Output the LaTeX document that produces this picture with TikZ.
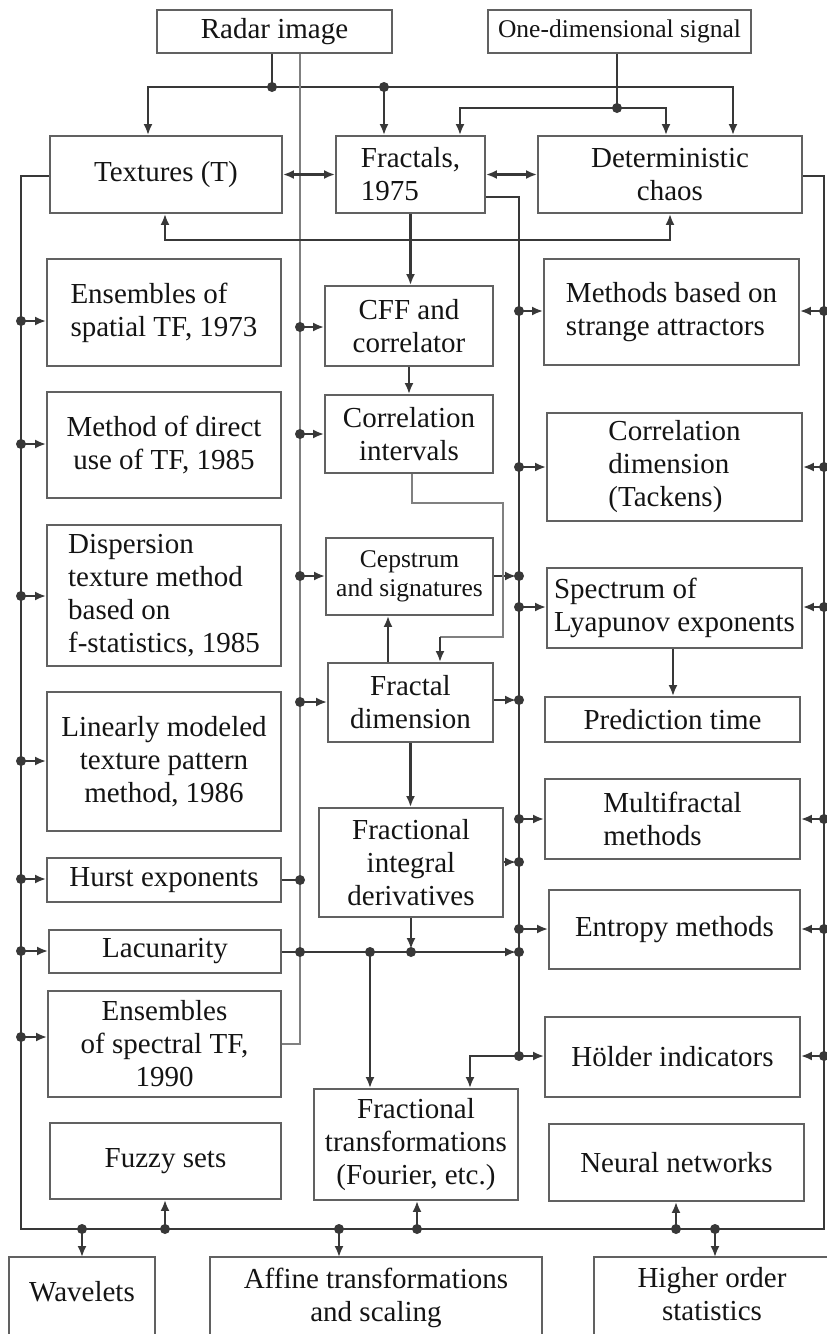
\documentclass[tikz,border=0pt]{standalone}
\usepackage{fontspec}
\setmainfont{Liberation Serif}
\usetikzlibrary{arrows.meta}
\colorlet{boxcol}{black!62}
\colorlet{linecol}{black!78}
\newcommand\fsA{\fontsize{29pt}{33pt}\selectfont}
\newcommand\fsB{\fontsize{25.5pt}{30pt}\selectfont}
\newcommand\fsC{\fontsize{25.5pt}{29pt}\selectfont}
\newcommand\bx[7][]{\node[box,minimum width={(#5)-(#3)},minimum height={(#6)-(#4)},#1] (#2) at ({((#3)+(#5))/2},{((#4)+(#6))/2}) {#7};}
\newcommand\jdot[1]{\fill[linecol] (#1) circle[radius=5pt];}
\begin{document}
\begin{tikzpicture}[x=1pt,y=-1pt,
  box/.style={draw=boxcol,line width=1.9pt,inner sep=0pt,align=center,font=\fsA,text=black!92},
  ln/.style={draw=linecol,line width=2.1pt},
  lnthin/.style={draw=black!50,line width=1.5pt},
  tip/.tip={Latex[length=11pt,width=9pt]},
  arr/.style={ln,-tip},
  darr/.style={ln,tip-tip},
  inarr/.style={arr,shorten >=3pt},
]
\useasboundingbox (0,0) rectangle (827,1334);
\clip (0,0) rectangle (827,1334);
\fill[white] (0,0) rectangle (827,1334);

% ---------- boxes ----------
\bx{radar}{157}{10}{392}{53}{Radar image}
\bx[font=\fsB]{onedim}{488}{10}{751}{53}{One-dimensional signal}
\bx{textures}{50}{136}{282}{213}{Textures (T)}
\bx[align=left]{fractals}{336}{136}{485}{213}{Fractals,\\1975}
\bx{chaos}{538}{136}{802}{213}{Deterministic\\chaos}

\bx[align=left]{spatial}{47}{259}{281}{366}{Ensembles of\\spatial TF, 1973}
\bx{direct}{47}{392}{281}{498}{Method of direct\\use of TF, 1985}
\bx[align=left]{disp}{47}{525}{281}{666}{Dispersion\\texture method\\based on\\f-statistics, 1985}
\bx{linear}{47}{692}{281}{831}{Linearly modeled\\texture pattern\\method, 1986}
\bx{hurst}{47}{858}{281}{902}{Hurst exponents}
\bx{lacun}{49}{930}{281}{973}{Lacunarity}
\bx{spectral}{48}{991}{281}{1097}{Ensembles\\of spectral TF,\\1990}
\bx{fuzzy}{50}{1123}{281}{1199}{Fuzzy sets}

\bx{cff}{325}{286}{493}{366}{CFF and\\correlator}
\bx{corrint}{325}{395}{493}{473}{Correlation\\intervals}
\bx[font=\fsC]{cepstrum}{326}{538}{493}{615}{Cepstrum\\and signatures}
\bx{fracdim}{328}{663}{493}{742}{Fractal\\dimension}
\bx{fracint}{319}{808}{503}{917}{Fractional\\integral\\derivatives}
\bx{fractrans}{314}{1089}{518}{1200}{Fractional\\transformations\\(Fourier, etc.)}

\bx[align=left]{strange}{544}{259}{799}{365}{Methods based on\\strange attractors}
\bx[align=left]{corrdim}{547}{413}{802}{521}{Correlation\\dimension\\(Tackens)}
\bx[align=left]{lyap}{547}{568}{802}{648}{Spectrum of\\Lyapunov exponents}
\bx{predict}{545}{697}{800}{742}{Prediction time}
\bx[align=left]{multi}{545}{779}{800}{859}{Multifractal\\methods}
\bx{entropy}{549}{890}{800}{969}{Entropy methods}
\bx{holder}{545}{1017}{800}{1097}{Hölder indicators}
\bx{neural}{549}{1124}{804}{1201}{Neural networks}

\bx[draw=none]{wavelets}{10}{1258}{154}{1326}{Wavelets}
\bx[draw=none]{affine}{211}{1258}{541}{1338}{Affine transformations\\and scaling}
\bx[draw=none]{higher}{595}{1258}{829}{1330}{Higher order\\statistics}
\foreach \n in {wavelets,affine,higher}
  \draw[draw=boxcol,line width=1.9pt] ([yshift=-40pt]\n.south west) |- (\n.north east) -- ([yshift=-40pt]\n.south east);

% ---------- top inputs ----------
\coordinate (r1) at (272,87);
\coordinate (r2) at (384,87);
\coordinate (bA) at (148,87);
\coordinate (bB) at (733,87);
\draw[ln] (r1 |- radar.south) -- (r1);
\draw[arr] (r1) -| (bA |- textures.north);
\draw[arr] (r1) -| (bB |- chaos.north);
\draw[arr] (r2) -- (r2 |- fractals.north);
\coordinate (s1) at (617,108);
\coordinate (sA) at (460,108);
\coordinate (sB) at (666,108);
\draw[ln] (s1 |- onedim.south) -- (s1);
\draw[arr] (s1) -| (sA |- fractals.north);
\draw[arr] (s1) -| (sB |- chaos.north);

% ---------- thin radar bus ----------
\coordinate (mbx) at (300,1044);
\draw[lnthin] (mbx |- radar.south) -- (mbx) -- (spectral.east |- mbx);

\jdot{r1} \jdot{r2} \jdot{s1}

% ---------- top row links ----------
\draw[darr] (textures.east) -- (fractals.west);
\draw[darr] (fractals.east) -- (chaos.west);
\coordinate (t1) at (165,240);
\coordinate (t2) at (670,240);
\draw[darr] (t1 |- textures.south) -- (t1) -- (t2) -- (t2 |- chaos.south);
\draw[arr] (fractals.south) -- (fractals.south |- cff.north);

% ---------- outer bus ----------
\coordinate (lb0) at (21,176);
\coordinate (lb1) at (21,1229);
\coordinate (rb1) at (824,1229);
\coordinate (rbt) at (824,176);
\draw[ln] (textures.west |- lb0) -- (lb0) -- (lb1) -- (rb1) -- (rbt) -- (chaos.east |- rbt);
\foreach \y/\n in {321/spatial,444/direct,596/disp,761/linear,879/hurst,951/lacun,1037/spectral}{
  \coordinate (L) at (21,\y);
  \draw[arr] (L) -- (L -| \n.west);
  \jdot{L}
}
\foreach \y/\n in {311/strange,467/corrdim,607/lyap,819/multi,929/entropy,1056/holder}{
  \coordinate (R) at (824,\y);
  \draw[arr] (R) -- (R -| \n.east);
  \jdot{R}
}
\foreach \x/\n in {82/wavelets,339/affine,715/higher}{
  \coordinate (B) at (\x,1229);
  \draw[arr] (B) -- (B |- \n.north);
  \jdot{B}
}
\foreach \x/\n in {165/fuzzy,417/fractrans,676/neural}{
  \coordinate (B) at (\x,1229);
  \draw[arr] (B) -- (B |- \n.south);
  \jdot{B}
}

% ---------- inner right bus ----------
\coordinate (rb0) at (519,197);
\coordinate (rbH) at (519,1056);
\draw[ln] (fractals.east |- rb0) -- (rb0) -- (rbH);
\foreach \y/\n in {311/strange,467/corrdim,607/lyap,819/multi,929/entropy}{
  \coordinate (Q) at (519,\y);
  \draw[arr] (Q) -- (Q -| \n.west);
  \jdot{Q}
}
\foreach \y/\n in {576/cepstrum,700/fracdim,862/fracint}{
  \coordinate (Q) at (519,\y);
  \draw[inarr] (Q -| \n.east) -- (Q);
  \jdot{Q}
}
\draw[arr] (rbH) -- (rbH -| holder.west);
\coordinate (h2) at (470,1056);
\draw[arr] (rbH) -- (h2) -- (h2 |- fractrans.north);
\jdot{rbH}

% ---------- middle bus outputs ----------
\foreach \y/\n in {327/cff,434/corrint,576/cepstrum,702/fracdim}{
  \coordinate (M) at (300,\y);
  \draw[arr] (M) -- (M -| \n.west);
  \jdot{M}
}
\coordinate (m5) at (300,880);
\draw[ln] (hurst.east |- m5) -- (m5);
\jdot{m5}

% ---------- lacunarity line ----------
\coordinate (l1) at (300,952);
\coordinate (l2) at (370,952);
\coordinate (l3) at (411,952);
\coordinate (l4) at (519,952);
\draw[inarr] (lacun.east |- l1) -- (l4);
\draw[arr] (l2) -- (l2 |- fractrans.north);
\draw[inarr] (fracint.south) -- (l3);
\jdot{l1} \jdot{l2} \jdot{l3} \jdot{l4}

% ---------- middle chain ----------
\draw[arr] (cff.south) -- (cff.south |- corrint.north);
\coordinate (ci1) at (412,503);
\coordinate (ci2) at (503,503);
\coordinate (ci3) at (503,637);
\coordinate (ci4) at (440,637);
\draw[lnthin] (ci1 |- corrint.south) -- (ci1) -- (ci2) -- (ci3) -- (ci4);
\draw[arr] (ci4) -- (ci4 |- fracdim.north);
\coordinate (fc) at (388,640);
\draw[arr] (fc |- fracdim.north) -- (fc |- cepstrum.south);
\draw[arr] (fracdim.south) -- (fracdim.south |- fracint.north);
\coordinate (p1) at (673,660);
\draw[arr] (p1 |- lyap.south) -- (p1 |- predict.north);
\end{tikzpicture}
\end{document}
